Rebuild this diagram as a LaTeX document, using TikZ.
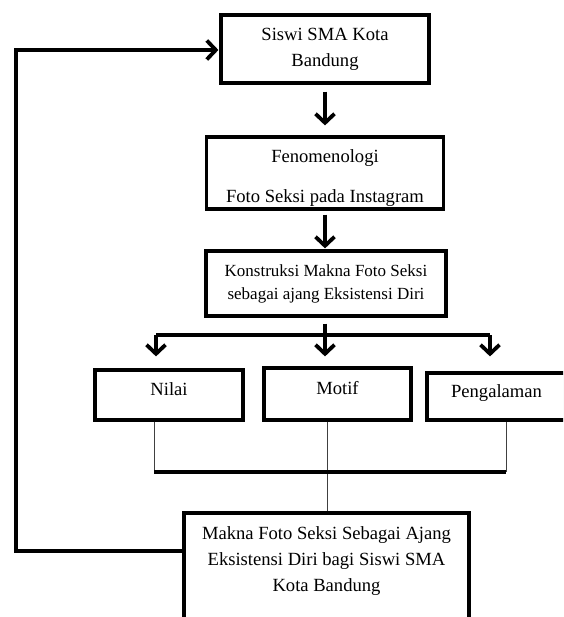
\documentclass[tikz,border=0pt]{standalone}
\usepackage{fontspec}
\setmainfont{Liberation Serif}
\usetikzlibrary{arrows.meta,positioning,shadows}

\begin{document}
\begin{tikzpicture}[
  x=1pt,y=-1pt,
  box/.style={draw,fill=white,line width=3.2pt,align=center,inner sep=0pt,font=\fontsize{18.6}{26}\selectfont,
    drop shadow={opacity=0.25,shadow xshift=1.3pt,shadow yshift=-1.3pt}},
  leaf/.style={box,text height=13pt,text depth=12pt},
  flow/.style={line width=3.8pt,-{Straight Barb[length=9pt,width=19pt]}},
  bar/.style={line width=3.8pt},
  thin/.style={line width=0.9pt,black!75},
]
  \useasboundingbox (0,0) rectangle (563,617);
  \clip (0,0) rectangle (563,617);

  % Chain: subject -> phenomenon -> construction
  \node[box,minimum width=208,minimum height=68] (siswi) at (325,49) {Siswi SMA Kota\\Bandung};
  \node[box,minimum width=237,minimum height=72] (feno) at (325,173) {\rule{0pt}{23pt}Fenomenologi\\[14pt]Foto Seksi pada Instagram};
  \node[box,minimum width=240,minimum height=65,font=\fontsize{17}{23}\selectfont] (konstruksi) at (326,283.5) {Konstruksi Makna Foto Seksi\\sebagai ajang Eksistensi Diri};
  \draw[flow,shorten <=7pt,shorten >=10pt] (siswi.south) -- (siswi.south |- feno.north);
  \draw[flow,shorten <=4pt,shorten >=1pt] (feno.south) -- (feno.south |- konstruksi.north);

  % Three aspects
  \node[leaf,minimum width=148,minimum height=50] (nilai) at (169,395) {Nilai};
  \node[leaf,minimum width=147,minimum height=52] (motif) at (337.5,394) {Motif};
  \node[leaf,minimum width=139,minimum height=47] (alaman) at (496.5,396.5) {Pengalaman};

  % Split bar
  \coordinate (split) at (325,335);
  \coordinate (splitL) at (156,335);
  \coordinate (splitR) at (490,335);
  \draw[bar,shorten <=6pt] (konstruksi.south -| split) -- (split);
  \draw[bar] (splitL) -- (splitR);
  \draw[flow,shorten >=12pt] (splitL) -- (splitL |- nilai.north);
  \draw[flow,shorten >=10pt] (split) -- (split |- motif.north);
  \draw[flow,shorten >=15pt] (splitR) -- (splitR |- alaman.north);

  % Meaning box
  \node[box,minimum width=285,minimum height=144] (makna) at (326.5,585) {Makna Foto Seksi Sebagai Ajang\\Eksistensi Diri bagi Siswi SMA\\Kota Bandung\\~\\~};

  % Join lines
  \coordinate (joinL) at (154,472);
  \coordinate (joinM) at (327,472);
  \coordinate (joinR) at (506,472);
  \draw[thin] (joinL |- nilai.south) -- (joinL);
  \draw[thin] (joinR |- alaman.south) -- (joinR);
  \draw[thin] (joinM |- motif.south) -- (joinM |- makna.north);
  \draw[bar] (joinL) -- (joinR);

  % Feedback loop
  \coordinate (loopB) at (16,551);
  \coordinate (loopT) at (16,50);
  \draw[flow,shorten >=1pt] (makna.west |- loopB) -- (loopB) -- (loopT) -- (siswi.west |- loopT);
\end{tikzpicture}
\end{document}
